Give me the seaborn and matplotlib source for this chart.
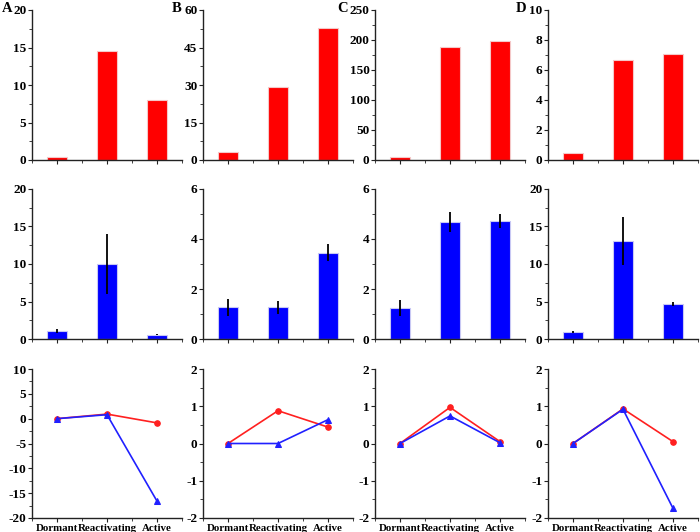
import numpy as np
import pandas as pd
import matplotlib
matplotlib.use('Agg')
import matplotlib.pyplot as plt
import seaborn as sns
from matplotlib.ticker import AutoMinorLocator

sns.set_style('ticks')
plt.rcParams['font.family'] = ['Liberation Serif', 'DejaVu Serif']
plt.rcParams['font.weight'] = 'bold'
plt.rcParams['axes.unicode_minus'] = False
plt.rcParams['text.color'] = 'black'
plt.rcParams['xtick.color'] = 'black'
plt.rcParams['ytick.color'] = 'black'

stages = ['Dormant', 'Reactivating', 'Active']
panels = ['A', 'B', 'C', 'D']

# top row (red bars)
top_a = [0.35, 14.6, 8.05]
top_b = [3.3, 29.1, 52.8]
top_c = [5.5, 188, 198.5]
top_d = [0.45, 6.7, 7.1]

# middle row (blue bars, with error)
mid_a = [1.1, 10.0, 0.6]
mid_a_err = [0.3, 4.0, 0.1]
mid_b = [1.27, 1.27, 3.46]
mid_b_err = [0.33, 0.27, 0.35]
mid_c = [1.23, 4.67, 4.71]
mid_c_err = [0.32, 0.4, 0.27]
mid_d = [0.98, 13.05, 4.72]
mid_d_err = [0.15, 3.2, 0.27]

# bottom row (lines)
red_a = [0, 0.92, -0.85]
blue_a = [0, 0.8, -16.6]
red_b = [0, 0.88, 0.44]
blue_b = [0, 0.0, 0.64]
red_c = [0, 0.97, 0.05]
blue_c = [0, 0.74, 0.02]
red_d = [0, 0.93, 0.05]
blue_d = [0, 0.92, -1.74]

top_vals = [top_a, top_b, top_c, top_d]
mid_vals = [mid_a, mid_b, mid_c, mid_d]
mid_errs = [mid_a_err, mid_b_err, mid_c_err, mid_d_err]
red_lines = [red_a, red_b, red_c, red_d]
blue_lines = [blue_a, blue_b, blue_c, blue_d]

top_ticks = [np.arange(0, 21, 5), np.arange(0, 61, 15), np.arange(0, 251, 50), np.arange(0, 11, 2)]
mid_ticks = [np.arange(0, 21, 5), np.arange(0, 7, 2), np.arange(0, 7, 2), np.arange(0, 21, 5)]
bot_ticks = [np.arange(-20, 11, 5), np.arange(-2, 3, 1), np.arange(-2, 3, 1), np.arange(-2, 3, 1)]

W, H = 700, 532
fig = plt.figure(figsize=(7, 5.32), dpi=100)
lefts = [32, 203, 375, 548]
letter_x = [2, 172, 337, 516]
rows = [(10, 160), (189, 339), (369, 518)]


def make_ax(x0, y0, y1):
    return fig.add_axes([x0 / W, 1 - y1 / H, 150 / W, (y1 - y0) / H])


def style(ax, ticks, labels):
    sns.despine(ax=ax)
    for s in ['left', 'bottom']:
        ax.spines[s].set_color('#222222')
        ax.spines[s].set_linewidth(1.0)
    ax.set_xlim(-0.5, 2.5)
    ax.set_ylim(ticks[0], ticks[-1])
    ax.set_yticks(ticks)
    ax.set_yticklabels([str(t) for t in ticks], fontsize=9.5, fontweight='bold',
                       color='black')
    ax.set_xticks([0, 1, 2])
    ax.xaxis.set_minor_locator(AutoMinorLocator(2))
    ax.yaxis.set_minor_locator(AutoMinorLocator(2))
    ax.tick_params(which='major', length=3, width=0.8, color='#222222', pad=1)
    ax.tick_params(which='minor', length=2, width=0.6, color='#222222')
    if labels:
        ax.set_xticklabels(stages, fontsize=7.8, fontweight='bold', color='black')
    else:
        ax.set_xticklabels([])
    ax.set_xlabel('')
    ax.set_ylabel('')


for i in range(4):
    # top
    ax = make_ax(lefts[i], *rows[0])
    df = pd.DataFrame({'stage': stages, 'val': top_vals[i]})
    sns.barplot(data=df, x='stage', y='val', color='#ff0000', saturation=1, width=0.4,
                edgecolor='#f4c8c8', linewidth=0.8, ax=ax)
    style(ax, top_ticks[i], False)
    fig.text(letter_x[i] / W, 1 - 9 / H, panels[i], fontsize=10.5, fontweight='bold', va='center')

    # middle
    ax = make_ax(lefts[i], *rows[1])
    df = pd.DataFrame({'stage': stages, 'val': mid_vals[i]})
    sns.barplot(data=df, x='stage', y='val', color='#0000ff', saturation=1, width=0.4,
                edgecolor='#c8c8f4', linewidth=0.8, ax=ax)
    ax.errorbar([0, 1, 2], mid_vals[i], yerr=mid_errs[i], fmt='none', ecolor='black',
                elinewidth=1.3, capsize=0)
    style(ax, mid_ticks[i], False)

    # bottom
    ax = make_ax(lefts[i], *rows[2])
    df = pd.DataFrame({'x': [0, 1, 2], 'red': red_lines[i], 'blue': blue_lines[i]})
    sns.lineplot(data=df, x='x', y='red', color='#ff2020', marker='o', markersize=4,
                 markeredgecolor='#ff2020', linewidth=1.2, ax=ax)
    sns.lineplot(data=df, x='x', y='blue', color='#2020ff', marker='^', markersize=4,
                 markeredgecolor='#2020ff', linewidth=1.2, ax=ax)
    style(ax, bot_ticks[i], True)

fig.savefig('out.png', dpi=100)
